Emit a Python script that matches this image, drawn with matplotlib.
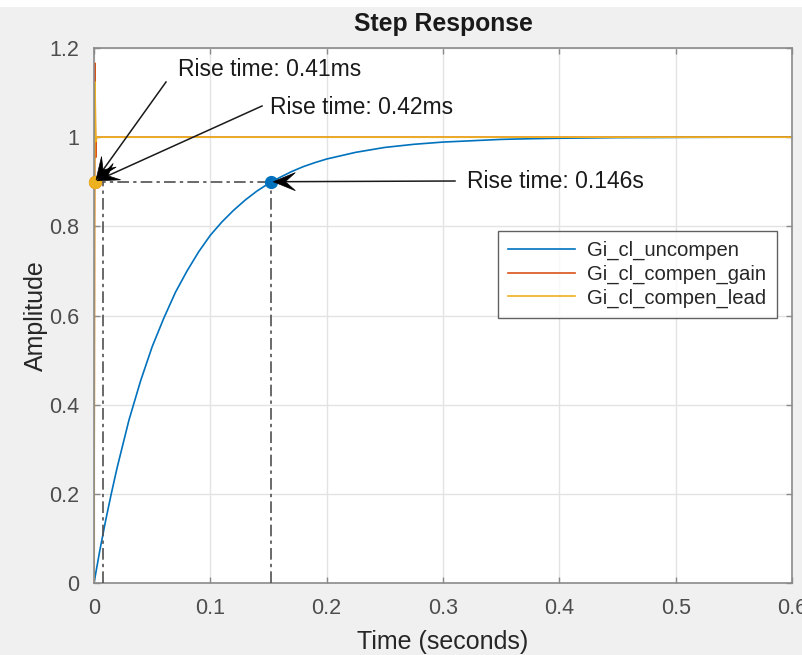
import matplotlib
matplotlib.use("Agg")
import matplotlib.pyplot as plt
from matplotlib.patches import Polygon, Rectangle
from matplotlib.transforms import IdentityTransform
import numpy as np

plt.rcParams['font.family'] = ['Liberation Sans', 'DejaVu Sans']

# Step responses (time in seconds, amplitude)
t_uncompen = [0, 0.005, 0.01, 0.015, 0.02, 0.03, 0.04, 0.05, 0.06, 0.07, 0.08,
              0.09, 0.10, 0.11, 0.12, 0.13, 0.14, 0.15, 0.16, 0.17, 0.18, 0.19,
              0.20, 0.225, 0.25, 0.275, 0.30, 0.325, 0.35, 0.375, 0.40, 0.45,
              0.50, 0.55, 0.60]
y_uncompen = [0, 0.073, 0.14, 0.202, 0.26, 0.365, 0.453, 0.53, 0.594, 0.652, 0.70,
              0.743, 0.78, 0.81, 0.836, 0.859, 0.879, 0.896, 0.910, 0.923, 0.934, 0.943,
              0.951, 0.966, 0.977, 0.984, 0.989, 0.992, 0.995, 0.9965, 0.9976, 0.999,
              0.9995, 1.0, 1.0]

t_gain = [0, 0.0004, 0.0008, 0.0012, 0.0016, 0.0020, 0.0026, 0.60]
y_gain = [0, 0.80, 1.166, 1.02, 0.955, 1.0, 1.0, 1.0]

t_lead = [0, 0.0004, 0.0008, 0.0012, 0.0016, 0.0022, 0.60]
y_lead = [0, 0.78, 1.124, 1.03, 0.99, 1.0, 1.0]

series_names = ['Gi_cl_uncompen', 'Gi_cl_compen_gain', 'Gi_cl_compen_lead']
series_colors = ['#0072BD', '#D95319', '#EDB120']

# Rise-time markers (time at 90 % of final value)
rise_t = [0.0005, 0.0005, 0.152]
rise_y = [0.9, 0.9, 0.9]
rise_colors = ['#D95319', '#EDB120', '#0072BD']
rise_labels = ['Rise time: 0.41ms', 'Rise time: 0.42ms', 'Rise time: 0.146s']
rise_guide_t = [0.0075, 0.152]

x_ticks = [0, 0.1, 0.2, 0.3, 0.4, 0.5, 0.6]
x_ticklabels = ['0', '0.1', '0.2', '0.3', '0.4', '0.5', '0.6']
y_ticks = [0, 0.2, 0.4, 0.6, 0.8, 1.0, 1.2]
y_ticklabels = ['0', '0.2', '0.4', '0.6', '0.8', '1', '1.2']

W, H, DPI = 803, 655, 100
fig = plt.figure(figsize=(W / DPI, H / DPI), dpi=DPI, facecolor='#f0f0f0')
fig.add_artist(Rectangle((0, 1 - 7 / H), 1, 7 / H, transform=fig.transFigure,
                         facecolor='white', edgecolor='none', zorder=0))

ax_l, ax_r, ax_t, ax_b = 94, 792, 48, 583
ax = fig.add_axes([ax_l / W, (H - ax_b) / H, (ax_r - ax_l) / W, (ax_b - ax_t) / H])
ax.set_facecolor('white')
ax.set_xlim(0, 0.6)
ax.set_ylim(0, 1.2)

gray_axis = '#8a8a8a'
for s in ax.spines.values():
    s.set_color(gray_axis)
    s.set_linewidth(1.2)
ax.set_xticks(x_ticks)
ax.set_xticklabels(x_ticklabels)
ax.set_yticks(y_ticks)
ax.set_yticklabels(y_ticklabels)
ax.tick_params(direction='in', length=4, width=1, color=gray_axis,
               labelsize=15.5, labelcolor='#4d4d4d', top=True, right=True, pad=10.5)
ax.grid(True, color='#e3e3e3', linewidth=1)
ax.set_axisbelow(True)

ax.set_title('Step Response', fontsize=17.8, fontweight='bold', color='#1a1a1a', pad=12)
ax.set_xlabel('Time (seconds)', fontsize=18, color='#262626', labelpad=8)
ax.set_ylabel('Amplitude', fontsize=18, color='#262626', labelpad=1)

# Responses
ax.plot(t_uncompen, y_uncompen, color=series_colors[0], lw=1.2, label=series_names[0])
ax.plot(t_gain, y_gain, color=series_colors[1], lw=1.2, label=series_names[1])
ax.plot(t_lead, y_lead, color=series_colors[2], lw=1.2, label=series_names[2])

# Rise-time guide lines
dashdot = (0, (7, 2.5, 2, 2.5))
ax.plot([0, rise_t[2]], [rise_y[2], rise_y[2]], color='#505050', lw=1.2,
        linestyle=dashdot, zorder=3)
for gt in rise_guide_t:
    ax.plot([gt, gt], [0, 0.9], color='#505050', lw=1.2, linestyle=dashdot, zorder=3)

for rt, ry, rc in zip(rise_t, rise_y, rise_colors):
    ax.plot([rt], [ry], 'o', color=rc, markersize=8.5, zorder=5, clip_on=False)

leg = ax.legend(loc='upper left', bbox_to_anchor=(0.579, 0.658), borderaxespad=0,
                fontsize=14.6, frameon=True, fancybox=False, handlelength=3.3,
                handletextpad=0.6, borderpad=0.5, labelspacing=0.22)
leg.get_frame().set_edgecolor('#3a3a3a')
leg.get_frame().set_linewidth(1.0)
for txt in leg.get_texts():
    txt.set_color('#262626')

# Annotation arrows with barbed heads (positions in figure pixels, top origin)
tails_px = [(166, 82), (262, 106), (455, 181)]
text_px = [(178, 70), (270, 108), (467, 182)]
fig.canvas.draw()
for (tx, ty), (lx, ly), rt, ry, lab in zip(tails_px, text_px, rise_t, rise_y, rise_labels):
    tip = ax.transData.transform((rt, ry))
    tail = np.array([tx, H - ty], dtype=float)
    d = tip - tail
    d = d / np.hypot(*d)
    n = np.array([-d[1], d[0]])
    tip = tip - 2.5 * d
    L, Wd, N = 22, 9, 12
    fig.add_artist(plt.Line2D([tail[0], tip[0] - N * d[0]], [tail[1], tip[1] - N * d[1]],
                              transform=IdentityTransform(), color='#1a1a1a', lw=1.1,
                              zorder=6))
    head = [tip, tip - L * d + Wd * n, tip - N * d, tip - L * d - Wd * n]
    fig.add_artist(Polygon(head, closed=True, transform=IdentityTransform(),
                           facecolor='black', edgecolor='black', lw=0.5, zorder=7))
    fig.text(lx / W, (H - ly) / H, lab, fontsize=16.5, color='#1a1a1a',
             ha='left', va='center')

fig.savefig('out.png', dpi=DPI, facecolor=fig.get_facecolor())
